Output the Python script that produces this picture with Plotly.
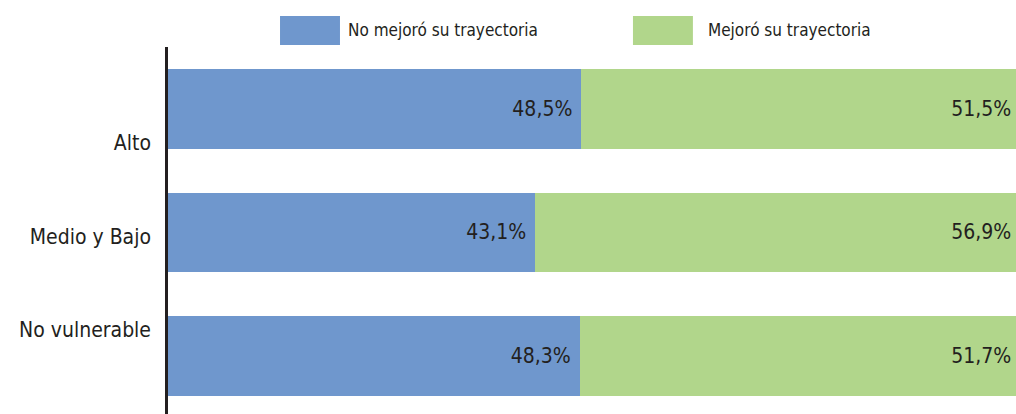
import plotly.graph_objects as go

categories = ["Alto", "Medio y Bajo", "No vulnerable"]
series_names = ["No mejoró su trayectoria", "Mejoró su trayectoria"]
no_mejoro = [48.5, 43.1, 48.3]
mejoro = [51.5, 56.9, 51.7]

colors = ["#6f97cd", "#b1d68b"]
font_family = "Liberation Sans Narrow, DejaVu Sans Condensed, Roboto, sans-serif"
text_color = "#231f20"

fig = go.Figure()
for name, vals, col in zip(series_names, [no_mejoro, mejoro], colors):
    fig.add_trace(go.Bar(
        y=categories, x=vals, name=name, orientation="h",
        marker=dict(color=col, line=dict(width=0)),
        texttemplate="%{x:.1f}%\u00a0", textposition="inside",
        insidetextanchor="end",
        textfont=dict(family=font_family, size=21, color=text_color),
        showlegend=False,
    ))

# invisible trace carrying the category labels axis
fig.add_trace(go.Scatter(x=[0], y=[0], yaxis="y2", mode="markers",
                         marker=dict(opacity=0), hoverinfo="skip", showlegend=False))

# custom legend with wide swatches
swatch_x = [0.1321, 0.5483]
label_x = [0.2099, 0.6344]
shapes = []
annotations = []
for i, (name, col) in enumerate(zip(series_names, colors)):
    shapes.append(dict(type="rect", xref="paper", yref="paper",
                       x0=swatch_x[i], x1=swatch_x[i] + 0.0707, y0=1.0054, y1=1.0845,
                       fillcolor=col, line=dict(width=0)))
    annotations.append(dict(text=name, xref="paper", yref="paper",
                            x=label_x[i], y=1.045, xanchor="left", yanchor="middle",
                            showarrow=False,
                            font=dict(family=font_family, size=17, color=text_color)))

fig.update_layout(
    width=1016, height=414,
    margin=dict(l=168, r=0, t=47, b=0),
    barmode="stack", bargap=0.355,
    separators=",.",
    plot_bgcolor="white", paper_bgcolor="white",
    shapes=shapes, annotations=annotations,
    xaxis=dict(range=[0, 99.5], visible=False, fixedrange=True),
    yaxis=dict(type="category", categoryorder="array", categoryarray=categories,
               range=[2.47, -0.5], showticklabels=False, showgrid=False,
               showline=True, linecolor=text_color, linewidth=3, ticks=""),
    yaxis2=dict(overlaying="y", anchor="x", side="left", range=[2.898, -1.027],
                tickmode="array", tickvals=[0, 1, 2], ticktext=categories,
                showgrid=False, zeroline=False, showline=False, ticks="",
                ticklabelstandoff=16,
                tickfont=dict(family=font_family, size=21, color=text_color)),
)

fig.write_html("out.html", config={"displayModeBar": False},
               post_script="document.body.style.margin='0';")
